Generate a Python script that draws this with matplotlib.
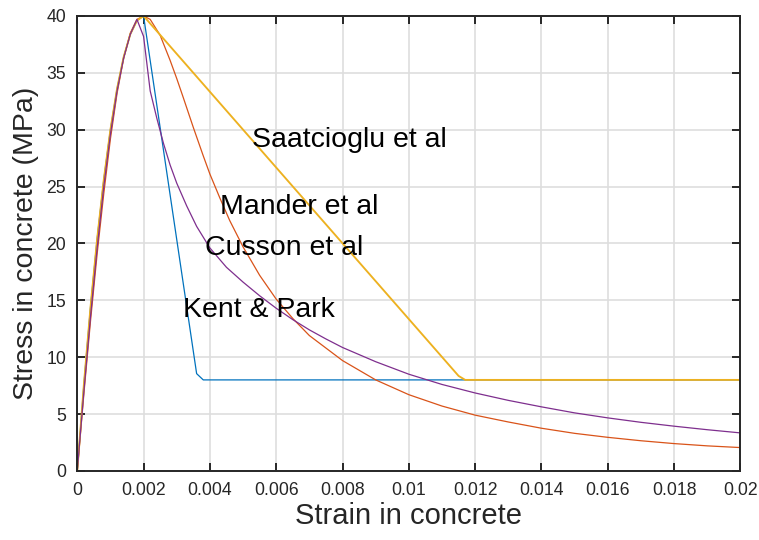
import matplotlib
matplotlib.use('Agg')
import matplotlib.pyplot as plt

# strain / stress values (MPa)
eps_kp = [0, 0.0002, 0.0004, 0.0006, 0.0008, 0.001, 0.0012, 0.0014, 0.0016, 0.0018, 0.002, 0.0036, 0.0038, 0.02]
sig_kp = [0, 7.6, 14.4, 20.4, 25.6, 30.0, 33.6, 36.4, 38.4, 39.6, 40.0, 8.55, 8.0, 8.0]

eps_mander = [0, 0.0002, 0.0004, 0.0006, 0.0008, 0.001, 0.0012, 0.0014, 0.0016, 0.0018, 0.002,
              0.0022, 0.0025, 0.0028, 0.003, 0.0032, 0.0035, 0.0038, 0.004, 0.0043, 0.0046,
              0.005, 0.0055, 0.006, 0.0065, 0.007, 0.0075, 0.008, 0.009, 0.01, 0.011,
              0.012, 0.013, 0.014, 0.015, 0.016, 0.017, 0.018, 0.019, 0.02]
sig_mander = [0, 6.8, 13.2, 19.1, 24.4, 29.2, 33.2, 36.3, 38.5, 39.7, 40.0,
              39.7, 38.3, 36.1, 34.5, 32.8, 30.2, 27.7, 26.1, 24.0, 22.0,
              19.7, 17.2, 15.1, 13.4, 11.9, 10.8, 9.7, 8.0, 6.7, 5.7,
              4.9, 4.3, 3.75, 3.3, 2.95, 2.65, 2.4, 2.2, 2.05]

eps_saat = [0, 0.0002, 0.0004, 0.0006, 0.0008, 0.001, 0.0012, 0.0014, 0.0016, 0.0018, 0.002, 0.0115, 0.0117, 0.02]
sig_saat = [0, 7.6, 14.4, 20.4, 25.6, 30.0, 33.6, 36.4, 38.4, 39.6, 40.0, 8.35, 8.0, 8.0]

eps_cusson = [0, 0.0002, 0.0004, 0.0006, 0.0008, 0.001, 0.0012, 0.0014, 0.0016, 0.0018, 0.002,
              0.0022, 0.0024, 0.0026, 0.0028, 0.003, 0.0033, 0.0036, 0.004, 0.0045, 0.005,
              0.0055, 0.006, 0.0065, 0.007, 0.0075, 0.008, 0.009, 0.01, 0.011, 0.012,
              0.013, 0.014, 0.015, 0.016, 0.017, 0.018, 0.019, 0.02]
sig_cusson = [0, 7.0, 13.6, 19.6, 25.0, 29.6, 33.4, 36.3, 38.4, 39.7, 38.2,
              33.4, 31.0, 28.8, 26.9, 25.3, 23.3, 21.5, 19.6, 17.9, 16.6,
              15.4, 14.3, 13.3, 12.4, 11.6, 10.85, 9.6, 8.5, 7.6, 6.85,
              6.2, 5.63, 5.1, 4.66, 4.27, 3.93, 3.62, 3.34]

names = ['Saatcioglu et al', 'Mander et al', 'Cusson et al', 'Kent & Park']
name_x = [0.00526, 0.0043, 0.00385, 0.0032]
name_y = [28.5, 22.6, 19.0, 13.5]

xticks = [0, 0.002, 0.004, 0.006, 0.008, 0.01, 0.012, 0.014, 0.016, 0.018, 0.02]
xticklabels = ['0', '0.002', '0.004', '0.006', '0.008', '0.01', '0.012', '0.014', '0.016', '0.018', '0.02']
yticks = [0, 5, 10, 15, 20, 25, 30, 35, 40]

plt.rc('font', family=['Liberation Sans', 'DejaVu Sans'])
plt.rc('axes', edgecolor='#262626', linewidth=1.4)

fig = plt.figure(figsize=(7.59, 5.40), dpi=100)
ax = fig.add_axes([0.1018, 0.128, 0.8737, 0.8424])

ax.plot(eps_kp, sig_kp, color='#0072BD', lw=0.9)
ax.plot(eps_mander, sig_mander, color='#D95319', lw=0.9)
ax.plot(eps_saat, sig_saat, color='#EDB120', lw=1.35)
ax.plot(eps_cusson, sig_cusson, color='#7E2F8E', lw=0.9)

for i in range(len(names)):
    ax.text(name_x[i], name_y[i], names[i], fontsize=20.5, color='black', va='baseline', ha='left')

ax.set_xlim(0, 0.02)
ax.set_ylim(0, 40)
ax.set_xticks(xticks)
ax.set_xticklabels(xticklabels)
ax.set_yticks(yticks)
ax.grid(True, color='#dedede', linewidth=1.2)
ax.set_axisbelow(True)
ax.tick_params(direction='in', length=6, width=1.4, top=True, right=True,
               labelsize=12.7, colors='#262626', pad=8)
ax.set_xlabel('Strain in concrete', fontsize=21, color='#262626', labelpad=2)
ax.set_ylabel('Stress in concrete (MPa)', fontsize=20.5, color='#262626', labelpad=5)

plt.savefig('out.png', dpi=100)
